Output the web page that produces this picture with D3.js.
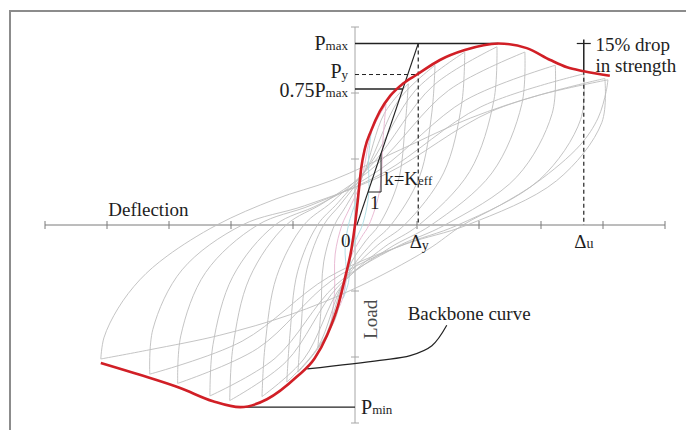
<!DOCTYPE html>
<html>
<head>
<meta charset="utf-8">
<script src="https://cdn.jsdelivr.net/npm/d3@7"></script>
<style>
  html, body { margin: 0; padding: 0; background: #fff; }
  svg { display: block; font-family: "Liberation Serif", "Times New Roman", serif; }
</style>
</head>
<body>
<div id="chart"></div>
<script>
const width = 686;
const height = 430;

// axis ticks (deflection in mm, load in kN)
const xTicks = [-50, -40, -30, -20, -10, 10, 20, 30, 40, 50];
const yTicks = [-30, -20, -10, 10, 20, 30];

// backbone (envelope) curve
const backbone = [
  [-41.0, -20.9], [-34.7, -22.7], [-28.2, -24.7], [-22.9, -26.7], [-18.5, -27.6],
  [-14.2, -26.4], [-9.4, -23.0], [-6.5, -20.2], [-4.5, -16.7], [-2.7, -12.1],
  [-1.5, -7.6], [-0.6, -3.8], [0, 0], [0.5, 4.2], [1.0, 8.6], [1.6, 11.6],
  [2.6, 14.3], [4.0, 17.2], [5.7, 19.6], [7.7, 21.4], [10.0, 22.8], [13.7, 25.0],
  [17.7, 26.5], [23.1, 27.5], [27.7, 26.8], [31.5, 25.0], [34.2, 23.9], [36.9, 23.3], [41.1, 22.6]
];

// hysteresis cycles: loading branch (neg peak -> pos peak)
const loopsUp = [
  [[-1.9, -11.1], [-1.4, -7.8], [-1.6, -3.3], [-1.05, 0], [-0.47, 1.9], [0.62, 5.1], [1.49, 11.5], [2.7, 14.7]],
  [[-3.8, -14.6], [-3.3, -10.2], [-3.2, -4.4], [-2.1, 0], [-0.94, 2.4], [0.9, 6.4], [2.75, 14.3], [5.0, 18.3]],
  [[-6.0, -18.6], [-5.5, -13.0], [-5.05, -5.6], [-3.3, 0], [-1.49, 2.8], [1.33, 7.6], [4.73, 16.9], [8.6, 21.4]],
  [[-9.2, -22.3], [-8.7, -15.6], [-7.75, -6.7], [-5.06, 0], [-2.28, 3.2], [1.85, 8.5], [7.1, 19.0], [12.9, 24.2]],
  [[-11.0, -23.8], [-10.5, -16.7], [-9.27, -7.1], [-6.05, 0], [-2.72, 3.4], [2.42, 9.2], [9.74, 20.4], [17.7, 26.2]],
  [[-15.0, -26.0], [-14.5, -18.2], [-12.64, -7.8], [-8.25, 0], [-3.71, 3.5], [3.05, 9.5], [12.6, 21.1], [22.9, 27.0]],
  [[-20.2, -26.6], [-19.7, -18.6], [-17.0, -8.0], [-11.1, 0], [-5.0, 3.4], [3.59, 9.2], [15.1, 20.4], [27.4, 26.2]],
  [[-23.4, -25.9], [-22.9, -18.1], [-19.7, -7.8], [-12.9, 0], [-5.8, 3.1], [4.18, 8.5], [17.8, 18.9], [32.3, 24.2]],
  [[-28.6, -24.0], [-28.1, -16.8], [-24.1, -7.2], [-15.7, 0], [-7.07, 3.0], [4.73, 8.0], [20.3, 17.9], [36.9, 22.9]],
  [[-33.1, -22.6], [-32.6, -15.8], [-27.9, -6.8], [-18.2, 0], [-8.19, 2.9], [5.14, 7.8], [22.2, 17.3], [40.3, 22.2]],
  [[-41.0, -20.3], [-40.5, -17.1], [-38.2, -12.6], [-34.7, -8.3], [-30.3, -4.7], [-22.3, 0], [-12.9, 3.9],
   [-3.6, 6.8], [7.3, 11.4], [18.6, 16.2], [29.8, 19.7], [40.8, 22.0]]
];
// unloading branch (pos peak -> neg peak)
const loopsDown = [
  [[2.7, 14.7], [2.2, 10.3], [2.18, 4.4], [1.2, 0], [0.54, -1.4], [-0.53, -3.9], [-1.05, -8.7], [-1.9, -11.1]],
  [[5.0, 18.3], [4.5, 12.8], [4.04, 5.5], [2.25, 0], [1.01, -1.9], [-0.76, -5.1], [-2.09, -11.4], [-3.8, -14.6]],
  [[8.6, 21.4], [8.1, 15.2], [6.94, 6.5], [3.87, 0], [1.74, -2.4], [-1.02, -6.5], [-3.3, -14.5], [-6.0, -18.6]],
  [[12.9, 24.2], [12.4, 17.1], [10.4, 7.3], [5.8, 0], [2.61, -2.9], [-1.4, -7.8], [-5.06, -17.4], [-9.2, -22.3]],
  [[17.7, 26.2], [17.2, 18.3], [14.3, 7.9], [7.97, 0], [3.59, -3.1], [-1.62, -8.3], [-6.05, -18.6], [-11.0, -23.8]],
  [[22.9, 27.0], [22.4, 18.9], [18.5, 8.1], [10.3, 0], [4.64, -3.4], [-2.1, -9.1], [-8.25, -20.3], [-15.0, -26.0]],
  [[27.4, 26.2], [26.9, 18.3], [22.1, 7.9], [12.3, 0], [5.54, -3.5], [-2.72, -9.3], [-11.1, -20.7], [-20.2, -26.6]],
  [[32.3, 24.2], [31.8, 16.9], [26.1, 7.3], [14.5, 0], [6.53, -3.4], [-3.11, -9.1], [-12.9, -20.2], [-23.4, -25.9]],
  [[36.9, 22.9], [36.4, 16.0], [29.8, 6.9], [16.6, 0], [7.47, -3.1], [-3.73, -8.4], [-15.7, -18.7], [-28.6, -24.0]],
  [[40.3, 22.2], [39.8, 15.5], [32.5, 6.7], [18.1, 0], [8.15, -2.9], [-4.27, -7.9], [-18.2, -17.6], [-33.1, -22.6]],
  [[40.8, 22.0], [40.5, 20.2], [39.2, 16.2], [36.3, 12.1], [29.4, 6.5], [23.4, 3.0], [17.4, 0], [11.6, -3.8],
   [0, -9.6], [-10.5, -13.6], [-21.8, -16.7], [-33.1, -18.9], [-41.0, -20.3]]
];

// key values marked on the chart
const Pmax = 27.5, Py = 22.8, Pmin = -27.6;
const xPmax = 23.1, xPmin = -18.5;
const deltaY = 10.2, deltaU = 36.9;
const leader = [[14.8, -15.2], [12.4, -18.3], [8.9, -19.8], [4.0, -20.5], [-7.7, -21.8]];

const svg = d3.select('#chart').append('svg')
  .attr('width', width)
  .attr('height', height);

// frame
svg.append('rect')
  .attr('x', 10).attr('y', 11)
  .attr('width', 720).attr('height', 460)
  .attr('fill', 'none')
  .attr('stroke', '#8c8c8c')
  .attr('stroke-width', 2);

const x = d3.scaleLinear().domain([-50, 50]).range([45, 665]);
const y = d3.scaleLinear().domain([-30, 30]).range([423, 27]);

const line = d3.line()
  .x((d) => x(d[0]))
  .y((d) => y(d[1]))
  .curve(d3.curveCatmullRom.alpha(0.5));

// axes
const axes = svg.append('g');
axes.append('line')
  .attr('x1', x(-50)).attr('x2', x(50))
  .attr('y1', y(0)).attr('y2', y(0))
  .attr('stroke', '#7a7a7a');
axes.selectAll('.xtick')
  .data(xTicks)
  .enter().append('line')
    .attr('x1', (d) => x(d)).attr('x2', (d) => x(d))
    .attr('y1', y(0) - 4).attr('y2', y(0) + 4)
    .attr('stroke', '#7a7a7a');
axes.append('line')
  .attr('x1', x(0)).attr('x2', x(0))
  .attr('y1', y(30)).attr('y2', y(-30))
  .attr('stroke', '#a6a6a6');
axes.selectAll('.ytick')
  .data(yTicks)
  .enter().append('line')
    .attr('x1', x(0) - 4).attr('x2', x(0) + 4)
    .attr('y1', (d) => y(d)).attr('y2', (d) => y(d))
    .attr('stroke', '#a6a6a6');

// hysteresis loops
const loopColor = (i) => i === 0 ? '#a9dbe3' : i === 1 ? '#e6b3cf' : '#bdbdbd';
const loops = svg.append('g').attr('fill', 'none').attr('stroke-width', 0.9);
loops.selectAll('.up')
  .data(loopsUp)
  .enter().append('path')
    .attr('d', line)
    .attr('stroke', (d, i) => loopColor(i));
loops.selectAll('.down')
  .data(loopsDown)
  .enter().append('path')
    .attr('d', line)
    .attr('stroke', (d, i) => loopColor(i));

// reference lines
const ref = svg.append('g').attr('stroke', '#222').attr('fill', 'none');
ref.append('line')
  .attr('x1', x(0)).attr('x2', x(xPmax))
  .attr('y1', y(Pmax)).attr('y2', y(Pmax))
  .attr('stroke-width', 1.5);
ref.append('line')
  .attr('x1', x(0)).attr('x2', x(deltaY))
  .attr('y1', y(Py)).attr('y2', y(Py))
  .attr('stroke-dasharray', '4,3');
ref.append('line')
  .attr('x1', x(deltaY)).attr('x2', x(deltaY))
  .attr('y1', y(Pmax)).attr('y2', y(0))
  .attr('stroke-dasharray', '4,3')
  .attr('stroke-width', 1.2);

// secant stiffness line through 0.75 Pmax
const sec0 = 0.3;
const secX = (p) => sec0 + (deltaY - sec0) * p / Pmax;
const secY = (d) => Pmax * (d - sec0) / (deltaY - sec0);
ref.append('line')
  .attr('x1', x(0)).attr('x2', x(secX(0.75 * Pmax)))
  .attr('y1', y(0.75 * Pmax)).attr('y2', y(0.75 * Pmax))
  .attr('stroke-width', 1.5);
ref.append('line')
  .attr('x1', x(sec0)).attr('x2', x(deltaY))
  .attr('y1', y(0)).attr('y2', y(Pmax))
  .attr('stroke-width', 1.1);
const triY = 5.0, triX = 4.2;
ref.append('path')
  .attr('d', `M${x(secX(triY))},${y(triY)}H${x(triX)}V${y(secY(triX))}`)
  .attr('stroke-width', 1);

// Pmin line
ref.append('line')
  .attr('x1', x(xPmin)).attr('x2', x(0))
  .attr('y1', y(Pmin)).attr('y2', y(Pmin))
  .attr('stroke-width', 1.3);

// 15% drop marker
ref.append('line')
  .attr('x1', x(deltaU)).attr('x2', x(deltaU))
  .attr('y1', y(Pmax) - 4).attr('y2', y(0.85 * Pmax))
  .attr('stroke-width', 1.5);
ref.append('line')
  .attr('x1', x(deltaU) - 7).attr('x2', x(deltaU) + 7)
  .attr('y1', y(Pmax)).attr('y2', y(Pmax))
  .attr('stroke-width', 1.2);
ref.append('line')
  .attr('x1', x(deltaU)).attr('x2', x(deltaU))
  .attr('y1', y(0.85 * Pmax)).attr('y2', y(0))
  .attr('stroke-dasharray', '4,3')
  .attr('stroke-width', 1.2);

// leader to backbone
ref.append('path')
  .datum(leader)
  .attr('d', line)
  .attr('stroke-width', 1.2);

// backbone
svg.append('path')
  .datum(backbone)
  .attr('d', line.curve(d3.curveMonotoneX))
  .attr('fill', 'none')
  .attr('stroke', '#d11f26')
  .attr('stroke-width', 2.6);

// labels
const labels = svg.append('g').attr('fill', '#1e1e1e');
const label = (px, py, parts, anchor = 'start', color) => {
  const t = labels.append('text')
    .attr('x', px).attr('y', py)
    .attr('text-anchor', anchor);
  if (color) t.attr('fill', color);
  parts.forEach(([txt, size, dy]) => {
    t.append('tspan')
      .attr('font-size', size)
      .attr('dy', dy || 0)
      .text(txt);
  });
  return t;
};

label(x(0) - 7, y(Pmax) + 6, [['P', 20], ['max', 13]], 'end');
label(x(0) - 7, y(Py) + 3, [['P', 20], ['y', 13, 1]], 'end');
label(x(0) - 7, y(0.75 * Pmax) + 8, [['0.75P', 20], ['max', 13]], 'end');
label(x(0) + 6, y(Pmin) + 7, [['P', 20], ['min', 13]]);
label(x(0) - 14, y(0) + 22, [['0', 19]]);
label(x(deltaY) + 1, y(0) + 23, [['Δ', 19], ['y', 14, 2]], 'middle');
label(x(deltaU), y(0) + 23, [['Δ', 19], ['u', 14]], 'middle');
label(x(-39.8), y(0) - 9, [['Deflection', 19]]);
label(x(8.5), y(-14.4), [['Backbone curve', 19]]);
label(x(38.8), y(26.4), [['15% drop', 19]]);
label(x(38.8), y(23.2), [['in strength', 19]]);
label(x(4.7), y(6.0), [['k=K', 19], ['eff', 13]]);
label(x(2.4), y(2.4), [['1', 19]]);
labels.append('text')
  .attr('transform', `translate(${x(0) + 22},${y(-14.3)}) rotate(-90)`)
  .attr('text-anchor', 'middle')
  .attr('font-size', 19)
  .attr('fill', '#4a4a4a')
  .text('Load');
</script>
</body>
</html>
